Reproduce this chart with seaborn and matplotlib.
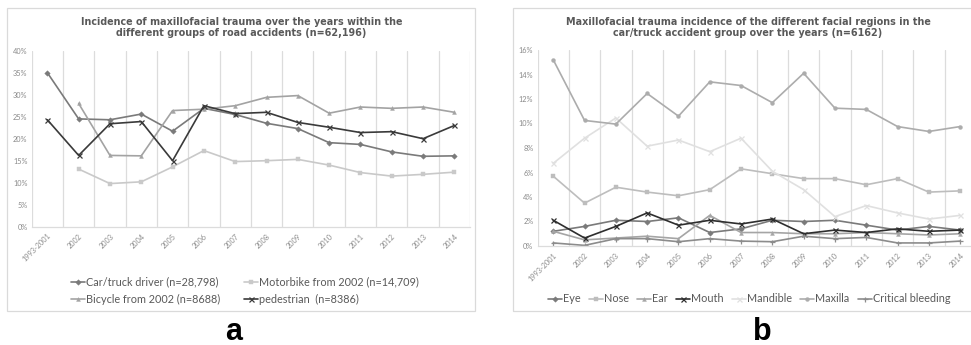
import numpy as np
import pandas as pd
import matplotlib
matplotlib.use("Agg")
import matplotlib.pyplot as plt
import seaborn as sns
from matplotlib.patches import Rectangle

sns.set_style("white")
plt.rcParams['font.family'] = ['Lato', 'DejaVu Sans']

years = ["1993-2001", "2002", "2003", "2004", "2005", "2006", "2007",
         "2008", "2009", "2010", "2011", "2012", "2013", "2014"]

# Panel a (percent)
car_truck = [35.0, 24.5, 24.3, 25.6, 21.7, 26.9, 25.5, 23.5, 22.3, 19.1, 18.7, 17.0, 16.0, 16.1]
motorbike = [np.nan, 13.1, 9.8, 10.2, 13.6, 17.3, 14.8, 15.0, 15.3, 14.0, 12.3, 11.5, 11.9, 12.4]
bicycle = [np.nan, 28.0, 16.2, 16.1, 26.4, 26.7, 27.5, 29.4, 29.8, 25.8, 27.2, 26.9, 27.2, 26.0]
pedestrian = [24.3, 16.2, 23.4, 23.9, 15.0, 27.5, 25.7, 26.0, 23.7, 22.6, 21.4, 21.6, 20.0, 23.0]
series_a = ["Car/truck driver (n=28,798)", "Motorbike from 2002 (n=14,709)",
            "Bicycle from 2002 (n=8688)", "pedestrian  (n=8386)"]

# Panel b (percent)
eye = [1.2, 1.6, 2.1, 2.0, 2.3, 1.1, 1.4, 2.1, 2.0, 2.1, 1.7, 1.3, 1.6, 1.3]
nose = [5.7, 3.5, 4.8, 4.4, 4.1, 4.6, 6.3, 5.9, 5.5, 5.5, 5.0, 5.5, 4.4, 4.5]
ear = [1.2, 0.5, 0.65, 0.8, 0.6, 2.5, 1.1, 1.1, 1.0, 1.0, 1.1, 1.0, 0.9, 1.0]
mouth = [2.1, 0.65, 1.6, 2.7, 1.7, 2.1, 1.8, 2.2, 1.0, 1.3, 1.1, 1.4, 1.2, 1.3]
mandible = [6.75, 8.8, 10.45, 8.15, 8.65, 7.7, 8.8, 6.1, 4.6, 2.4, 3.3, 2.7, 2.2, 2.5]
maxilla = [15.2, 10.25, 9.95, 12.45, 10.6, 13.4, 13.1, 11.7, 14.1, 11.25, 11.15, 9.75, 9.35, 9.75]
critical_bleeding = [0.25, 0.05, 0.6, 0.6, 0.35, 0.6, 0.4, 0.35, 0.8, 0.6, 0.7, 0.25, 0.25, 0.4]
series_b = ["Eye", "Nose", "Ear", "Mouth", "Mandible", "Maxilla", "Critical bleeding"]

W, H = 971, 345
fig = plt.figure(figsize=(W / 100, H / 100), dpi=100)


def fx(px):
    return px / W


def fy(py):
    return (H - py) / H


TXT = "#595959"
TICK = "#8a8a8a"
GRID = "#dcdcdc"
TITLE_FONT = dict(fontsize=6.9, fontweight="bold", color=TXT,
                  family=["DejaVu Sans"])


def style_axes(ax, ymax, ystep):
    ax.set_xlim(-0.5, len(years) - 0.5)
    ax.set_ylim(0, ymax)
    ax.set_xticks(range(len(years)))
    ax.set_xticklabels(years, rotation=45, ha="right", rotation_mode="anchor",
                       fontsize=5.3, color=TICK)
    ax.set_xticks(np.arange(-0.5, len(years), 1.0), minor=True)
    ax.grid(False)
    ax.grid(True, which="minor", axis="x", color=GRID, lw=0.9)
    yt = np.arange(0, ymax + 0.001, ystep)
    ax.set_yticks(yt)
    ax.set_yticklabels([f"{int(round(t))}%" for t in yt], fontsize=5.3, color=TICK)
    ax.tick_params(axis="both", which="both", length=0, pad=3)
    ax.tick_params(axis="x", pad=4)
    for s in ["top", "right", "left"]:
        ax.spines[s].set_visible(False)
    ax.spines["bottom"].set_color(GRID)
    ax.spines["bottom"].set_linewidth(0.9)
    ax.set_xlabel("")
    ax.set_ylabel("")
    ax.patch.set_alpha(0)


def draw_series(ax, names, arrays, colors, markers):
    for n, arr, c, m in zip(names, arrays, colors, markers):
        df = pd.DataFrame({"pos": np.arange(len(years)), "value": arr}).dropna()
        filled = m not in ("x", "+")
        sns.lineplot(data=df, x="pos", y="value", ax=ax, color=c, label=n,
                     marker=m, markersize=2.8 if filled else 3.6,
                     markeredgewidth=0.3 if filled else 0.9,
                     markeredgecolor=c, linewidth=1.2)


# ---------- Panel a ----------
axa = fig.add_axes([fx(31.7), fy(226.7), fx(438.3), (226.7 - 50.7) / H])
pal_a = ["#7a7a7a", "#c9c9c9", "#a3a3a3", "#3a3a3a"]
mk_a = ["D", "s", "^", "x"]
draw_series(axa, series_a, [car_truck, motorbike, bicycle, pedestrian], pal_a, mk_a)
style_axes(axa, 40, 5)
ha, la = axa.get_legend_handles_labels()
axa.get_legend().remove()
order = [0, 2, 1, 3]
fig.legend([ha[i] for i in order], [la[i] for i in order], loc="center",
           bbox_to_anchor=(fx(245), fy(290.5)),
           ncol=2, frameon=False, fontsize=7.8, labelcolor=TXT,
           handlelength=1.3, handletextpad=0.1, columnspacing=2.2,
           labelspacing=0.55, borderaxespad=0)

fig.text(fx(241.5), fy(22), "Incidence of maxillofacial trauma over the years within the",
         ha="center", va="center", **TITLE_FONT)
fig.text(fx(241.5), fy(33.5), "different groups of road accidents (n=62,196)",
         ha="center", va="center", **TITLE_FONT)

# ---------- Panel b ----------
axb = fig.add_axes([fx(537.6), fy(246), fx(438.2), (246 - 50) / H])
pal_b = ["#7a7a7a", "#bdbdbd", "#a5a5a5", "#2e2e2e", "#e0e0e0", "#acacac", "#8c8c8c"]
mk_b = ["D", "s", "^", "x", "x", "o", "+"]
draw_series(axb, series_b, [eye, nose, ear, mouth, mandible, maxilla, critical_bleeding],
            pal_b, mk_b)
style_axes(axb, 16, 2)
hb, lb = axb.get_legend_handles_labels()
axb.get_legend().remove()
fig.legend(hb, lb, loc="center", bbox_to_anchor=(fx(749), fy(299)),
           ncol=7, frameon=False, fontsize=7.8, labelcolor=TXT,
           handlelength=1.3, handletextpad=0.1, columnspacing=0.75,
           borderaxespad=0)

fig.text(fx(748), fy(22), "Maxillofacial trauma incidence of the different facial regions in the",
         ha="center", va="center", **TITLE_FONT)
fig.text(fx(748), fy(33.5), "car/truck accident group over the years (n=6162)",
         ha="center", va="center", **TITLE_FONT)

# panel frames
fig.patches.append(Rectangle((fx(7), fy(311)), fx(468), (311 - 8) / H,
                             transform=fig.transFigure, fill=False,
                             edgecolor="#dadada", lw=0.9))
fig.patches.append(Rectangle((fx(513), fy(311)), fx(480), (311 - 8) / H,
                             transform=fig.transFigure, fill=False,
                             edgecolor="#dadada", lw=0.9))

# panel letters
fig.text(fx(234), fy(339.5), "a", ha="center", va="baseline", fontsize=22,
         fontweight="bold", color="black", family=["Liberation Sans", "DejaVu Sans"])
fig.text(fx(762), fy(339.5), "b", ha="center", va="baseline", fontsize=22,
         fontweight="bold", color="black", family=["Liberation Sans", "DejaVu Sans"])

fig.savefig("out.png", dpi=100)
